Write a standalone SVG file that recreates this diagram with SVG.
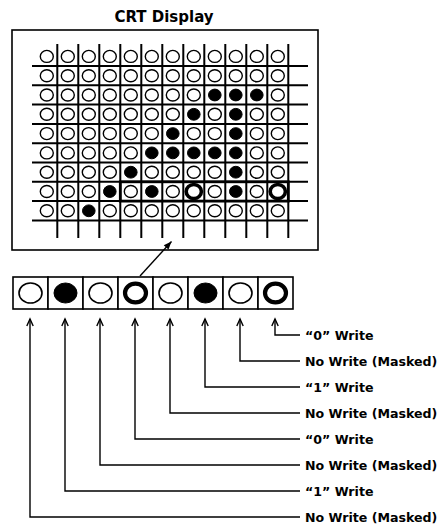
<svg xmlns="http://www.w3.org/2000/svg" xmlns:xlink="http://www.w3.org/1999/xlink" width="442" height="524" viewBox="0 0 442 524">
  <style>
    .t { font-family: "DejaVu Sans", "Liberation Sans", sans-serif; font-weight: bold; fill: #000; }
    .title { font-size: 15px; }
    .lbl { font-size: 12.6px; }
    .frame { fill: #fff; stroke: #000; stroke-width: 1.6; }
    .grid { stroke: #000; stroke-width: 2; fill: none; }
    .hl { stroke: #000; stroke-width: 2.8; fill: none; }
    .op { fill: #fff; stroke: #000; stroke-width: 1.4; }
    .fl { fill: #000; stroke: #000; stroke-width: 1; }
    .bd { fill: #fff; stroke: #000; stroke-width: 3.6; }
    .op2 { fill: #fff; stroke: #000; stroke-width: 1.6; }
    .bd2 { fill: #fff; stroke: #000; stroke-width: 4.2; }
    .conn { stroke: #000; stroke-width: 1.4; fill: none; }
  </style>
  <defs>
    <ellipse id="o" class="op" rx="6.5" ry="6"/>
    <ellipse id="f" class="fl" rx="6.3" ry="5.9"/>
    <ellipse id="b" class="bd" rx="7.6" ry="7"/>
    <marker id="up" viewBox="-10 -5 12 10" refX="0" refY="0" markerWidth="12" markerHeight="10" markerUnits="userSpaceOnUse" orient="auto">
      <path d="M -7 -3.2 L 0 0 L -7 3.2" fill="none" stroke="#000" stroke-width="1.4"/>
    </marker>
    <marker id="ptr" viewBox="-10 -5 12 10" refX="0" refY="0" markerWidth="12" markerHeight="10" markerUnits="userSpaceOnUse" orient="auto">
      <path d="M 0 0 L -8 -3.2 L -8 3.2 Z" fill="#000"/>
    </marker>
  </defs>
  <rect width="442" height="524" fill="#fff"/>

  <g id="title">
    <text class="t title" x="164" y="22" text-anchor="middle">CRT Display</text>
  </g>

  <g id="crt-display">
    <rect class="frame" x="12" y="30" width="306" height="220"/>
    <g class="grid">
      <path d="M32 66H308M32 85.3H308M32 104.6H308M32 123.9H308M32 143.2H308M32 162.5H308M32 181.8H308M32 201.1H308M32 220.4H308"/>
      <path d="M57.3 44V238M78.3 44V238M99.3 44V238M120.3 44V238M141.3 44V238M162.3 44V238M183.3 44V238M204.3 44V238M225.3 44V238M246.3 44V238M267.3 44V238M288.3 44V238"/>
    </g>
    <rect class="hl" x="120.3" y="181.8" width="168" height="19.3"/>
    <g id="row1">
      <use xlink:href="#o" x="46.8" y="56.4"/><use xlink:href="#o" x="67.8" y="56.4"/><use xlink:href="#o" x="88.8" y="56.4"/><use xlink:href="#o" x="109.8" y="56.4"/><use xlink:href="#o" x="130.8" y="56.4"/><use xlink:href="#o" x="151.8" y="56.4"/><use xlink:href="#o" x="172.8" y="56.4"/><use xlink:href="#o" x="193.8" y="56.4"/><use xlink:href="#o" x="214.8" y="56.4"/><use xlink:href="#o" x="235.8" y="56.4"/><use xlink:href="#o" x="256.8" y="56.4"/><use xlink:href="#o" x="277.8" y="56.4"/>
    </g>
    <g id="row2">
      <use xlink:href="#o" x="46.8" y="75.7"/><use xlink:href="#o" x="67.8" y="75.7"/><use xlink:href="#o" x="88.8" y="75.7"/><use xlink:href="#o" x="109.8" y="75.7"/><use xlink:href="#o" x="130.8" y="75.7"/><use xlink:href="#o" x="151.8" y="75.7"/><use xlink:href="#o" x="172.8" y="75.7"/><use xlink:href="#o" x="193.8" y="75.7"/><use xlink:href="#o" x="214.8" y="75.7"/><use xlink:href="#o" x="235.8" y="75.7"/><use xlink:href="#o" x="256.8" y="75.7"/><use xlink:href="#o" x="277.8" y="75.7"/>
    </g>
    <g id="row3">
      <use xlink:href="#o" x="46.8" y="95"/><use xlink:href="#o" x="67.8" y="95"/><use xlink:href="#o" x="88.8" y="95"/><use xlink:href="#o" x="109.8" y="95"/><use xlink:href="#o" x="130.8" y="95"/><use xlink:href="#o" x="151.8" y="95"/><use xlink:href="#o" x="172.8" y="95"/><use xlink:href="#o" x="193.8" y="95"/><use xlink:href="#f" x="214.8" y="95"/><use xlink:href="#f" x="235.8" y="95"/><use xlink:href="#f" x="256.8" y="95"/><use xlink:href="#o" x="277.8" y="95"/>
    </g>
    <g id="row4">
      <use xlink:href="#o" x="46.8" y="114.3"/><use xlink:href="#o" x="67.8" y="114.3"/><use xlink:href="#o" x="88.8" y="114.3"/><use xlink:href="#o" x="109.8" y="114.3"/><use xlink:href="#o" x="130.8" y="114.3"/><use xlink:href="#o" x="151.8" y="114.3"/><use xlink:href="#o" x="172.8" y="114.3"/><use xlink:href="#f" x="193.8" y="114.3"/><use xlink:href="#o" x="214.8" y="114.3"/><use xlink:href="#f" x="235.8" y="114.3"/><use xlink:href="#o" x="256.8" y="114.3"/><use xlink:href="#o" x="277.8" y="114.3"/>
    </g>
    <g id="row5">
      <use xlink:href="#o" x="46.8" y="133.6"/><use xlink:href="#o" x="67.8" y="133.6"/><use xlink:href="#o" x="88.8" y="133.6"/><use xlink:href="#o" x="109.8" y="133.6"/><use xlink:href="#o" x="130.8" y="133.6"/><use xlink:href="#o" x="151.8" y="133.6"/><use xlink:href="#f" x="172.8" y="133.6"/><use xlink:href="#o" x="193.8" y="133.6"/><use xlink:href="#o" x="214.8" y="133.6"/><use xlink:href="#f" x="235.8" y="133.6"/><use xlink:href="#o" x="256.8" y="133.6"/><use xlink:href="#o" x="277.8" y="133.6"/>
    </g>
    <g id="row6">
      <use xlink:href="#o" x="46.8" y="152.9"/><use xlink:href="#o" x="67.8" y="152.9"/><use xlink:href="#o" x="88.8" y="152.9"/><use xlink:href="#o" x="109.8" y="152.9"/><use xlink:href="#o" x="130.8" y="152.9"/><use xlink:href="#f" x="151.8" y="152.9"/><use xlink:href="#f" x="172.8" y="152.9"/><use xlink:href="#f" x="193.8" y="152.9"/><use xlink:href="#f" x="214.8" y="152.9"/><use xlink:href="#f" x="235.8" y="152.9"/><use xlink:href="#o" x="256.8" y="152.9"/><use xlink:href="#o" x="277.8" y="152.9"/>
    </g>
    <g id="row7">
      <use xlink:href="#o" x="46.8" y="172.2"/><use xlink:href="#o" x="67.8" y="172.2"/><use xlink:href="#o" x="88.8" y="172.2"/><use xlink:href="#o" x="109.8" y="172.2"/><use xlink:href="#f" x="130.8" y="172.2"/><use xlink:href="#o" x="151.8" y="172.2"/><use xlink:href="#o" x="172.8" y="172.2"/><use xlink:href="#o" x="193.8" y="172.2"/><use xlink:href="#o" x="214.8" y="172.2"/><use xlink:href="#f" x="235.8" y="172.2"/><use xlink:href="#o" x="256.8" y="172.2"/><use xlink:href="#o" x="277.8" y="172.2"/>
    </g>
    <g id="row8">
      <use xlink:href="#o" x="46.8" y="191.5"/><use xlink:href="#o" x="67.8" y="191.5"/><use xlink:href="#o" x="88.8" y="191.5"/><use xlink:href="#f" x="109.8" y="191.5"/><use xlink:href="#o" x="130.8" y="191.5"/><use xlink:href="#f" x="151.8" y="191.5"/><use xlink:href="#o" x="172.8" y="191.5"/><use xlink:href="#b" x="193.8" y="191.5"/><use xlink:href="#o" x="214.8" y="191.5"/><use xlink:href="#f" x="235.8" y="191.5"/><use xlink:href="#o" x="256.8" y="191.5"/><use xlink:href="#b" x="277.8" y="191.5"/>
    </g>
    <g id="row9">
      <use xlink:href="#o" x="46.8" y="210.8"/><use xlink:href="#o" x="67.8" y="210.8"/><use xlink:href="#f" x="88.8" y="210.8"/><use xlink:href="#o" x="109.8" y="210.8"/><use xlink:href="#o" x="130.8" y="210.8"/><use xlink:href="#o" x="151.8" y="210.8"/><use xlink:href="#o" x="172.8" y="210.8"/><use xlink:href="#o" x="193.8" y="210.8"/><use xlink:href="#o" x="214.8" y="210.8"/><use xlink:href="#o" x="235.8" y="210.8"/><use xlink:href="#o" x="256.8" y="210.8"/><use xlink:href="#o" x="277.8" y="210.8"/>
    </g>
  </g>

  <g id="write-word">
    <g id="bit1"><rect class="frame" x="13" y="277" width="35" height="32"/><ellipse class="op2" cx="30.5" cy="293" rx="11.5" ry="10"/></g>
    <g id="bit2"><rect class="frame" x="48" y="277" width="35" height="32"/><ellipse class="fl" cx="65.5" cy="293" rx="11.5" ry="10"/></g>
    <g id="bit3"><rect class="frame" x="83" y="277" width="35" height="32"/><ellipse class="op2" cx="100.5" cy="293" rx="11.5" ry="10"/></g>
    <g id="bit4"><rect class="frame" x="118" y="277" width="35" height="32"/><ellipse class="bd2" cx="135.5" cy="293" rx="10.5" ry="9.3"/></g>
    <g id="bit5"><rect class="frame" x="153" y="277" width="35" height="32"/><ellipse class="op2" cx="170.5" cy="293" rx="11.5" ry="10"/></g>
    <g id="bit6"><rect class="frame" x="188" y="277" width="35" height="32"/><ellipse class="fl" cx="205.5" cy="293" rx="11.5" ry="10"/></g>
    <g id="bit7"><rect class="frame" x="223" y="277" width="35" height="32"/><ellipse class="op2" cx="240.5" cy="293" rx="11.5" ry="10"/></g>
    <g id="bit8"><rect class="frame" x="258" y="277" width="35" height="32"/><ellipse class="bd2" cx="275.5" cy="293" rx="10.5" ry="9.3"/></g>
  </g>

  <g id="labels">
    <text class="t lbl" x="305" y="339.5">“0” Write</text>
    <text class="t lbl" x="305" y="365.5">No Write (Masked)</text>
    <text class="t lbl" x="305" y="391.5">“1” Write</text>
    <text class="t lbl" x="305" y="417.5">No Write (Masked)</text>
    <text class="t lbl" x="305" y="443.5">“0” Write</text>
    <text class="t lbl" x="305" y="469.5">No Write (Masked)</text>
    <text class="t lbl" x="305" y="495.5">“1” Write</text>
    <text class="t lbl" x="305" y="521.5">No Write (Masked)</text>
  </g>

  <g id="connectors">
    <path class="conn" d="M140 276L171.5 241.5" marker-end="url(#ptr)"/>
    <path class="conn" d="M300 335H275V319" marker-end="url(#up)"/>
    <path class="conn" d="M300 361H240V319" marker-end="url(#up)"/>
    <path class="conn" d="M300 387H205V319" marker-end="url(#up)"/>
    <path class="conn" d="M300 413H170V319" marker-end="url(#up)"/>
    <path class="conn" d="M300 439H135V319" marker-end="url(#up)"/>
    <path class="conn" d="M300 465H100V319" marker-end="url(#up)"/>
    <path class="conn" d="M300 491H65V319" marker-end="url(#up)"/>
    <path class="conn" d="M300 517H30V319" marker-end="url(#up)"/>
  </g>
</svg>
